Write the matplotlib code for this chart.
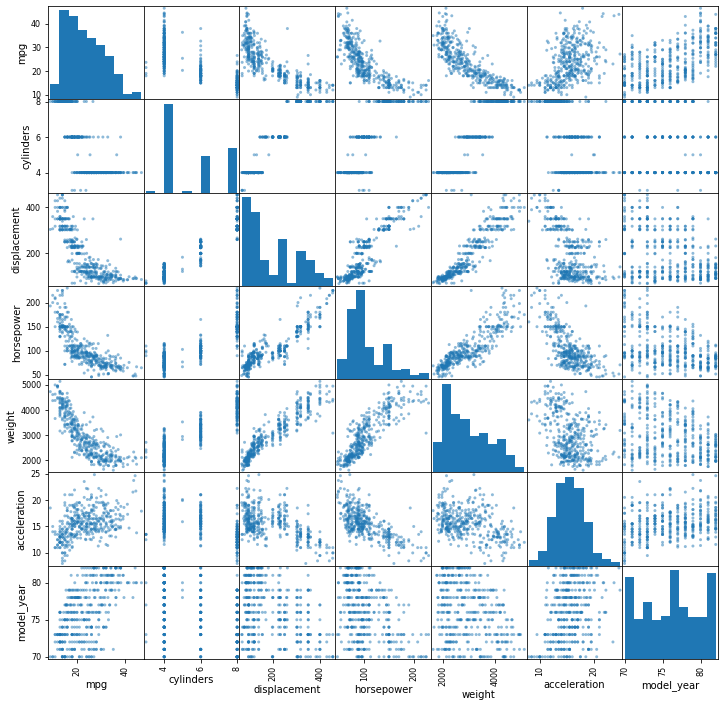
import matplotlib
matplotlib.use('Agg')
import matplotlib.pyplot as plt
import numpy as np
import pandas as pd

# one line per model year, 70 to 82; the last line of each list is the
# six cars with no horsepower
mpg = [
    18,15,18,16,17,15,14,14,14,15,15,14,15,14,24,22,18,21,27,26,25,24,25,26,21,10,10,11,9,
    27,28,25,19,16,17,19,18,14,14,14,14,12,13,13,18,22,19,18,23,28,30,30,31,35,27,26,
    24,25,23,20,21,13,14,15,14,17,11,13,12,13,19,15,13,13,14,18,22,21,26,22,28,23,28,27,
    13,14,13,14,15,12,13,13,14,13,12,13,18,16,18,18,23,26,11,12,13,12,18,20,21,22,18,19,21,26,15,16,29,24,20,19,15,24,20,11,
    20,19,15,31,26,32,25,16,16,18,16,13,14,14,14,29,26,26,31,32,28,24,26,24,26,31,
    19,18,15,15,16,15,16,14,17,16,15,18,21,20,13,29,23,20,23,24,25,24,18,29,19,23,23,22,25,33,
    28,25,25,26,27,17.5,16,15.5,14.5,22,22,24,22.5,29,24.5,29,33,20,18,18.5,17.5,29.5,32,28,26.5,20,13,19,19,16.5,16.5,13,13,13,
    31.5,30,36,25.5,33.5,17.5,17,15.5,15,17.5,20.5,19,18.5,16,15.5,15.5,16,29,24.5,26,25.5,30.5,33.5,30,30.5,22,21.5,21.5,
    43.1,36.1,32.8,39.4,36.1,19.9,19.4,20.2,19.2,20.5,20.2,25.1,20.5,19.4,20.6,20.8,18.6,18.1,19.2,17.7,18.1,17.5,30,27.5,27.2,30.9,21.1,23.2,23.8,23.9,20.3,17,21.6,16.2,31.5,29.5,
    21.5,19.8,22.3,20.2,20.6,17,17.6,16.5,18.2,16.9,15.5,19.2,18.5,31.9,34.1,35.7,27.4,25.4,23,27.2,23.9,34.2,34.5,31.8,37.3,28.4,28.8,26.8,33.5,
    41.5,38.1,32.1,37.2,28,26.4,24.3,19.1,34.3,29.8,31.3,37,32.2,46.6,27.9,40.8,44.3,43.4,36.4,30,44.6,33.8,29.8,32.7,23.7,35,32.4,
    27.2,26.6,25.8,23.5,30,39.1,39,35.1,32.3,37,37.7,34.1,34.7,34.4,29.9,33,33.7,32.4,32.9,31.6,28.1,30.7,25.4,24.2,22.4,26.6,20.2,17.6,
    28,27,34,31,29,27,24,36,37,31,38,36,36,36,34,38,32,38,25,38,26,22,32,36,27,27,44,32,28,31,
    25,21,40.9,23.6,34.5,23,
]

cylinders = [
    8,8,8,8,8,8,8,8,8,8,8,8,8,8,4,6,6,6,4,4,4,4,4,4,6,8,8,8,8,
    4,4,4,6,6,6,6,6,8,8,8,8,8,8,8,6,4,6,6,4,4,4,4,4,4,4,4,
    4,4,4,4,4,8,8,8,8,8,8,8,8,8,3,8,8,8,8,4,4,4,4,4,4,4,4,4,
    8,8,8,8,8,8,8,8,8,8,8,8,6,6,6,6,6,4,8,8,8,8,6,4,4,4,3,4,6,4,8,8,4,4,4,4,8,4,6,8,
    6,6,6,4,4,4,4,6,6,6,8,8,8,8,8,4,4,4,4,4,4,4,4,4,4,4,
    6,6,6,6,8,8,8,8,6,6,6,6,6,8,8,4,4,6,4,4,4,4,6,4,6,4,4,4,4,4,
    4,4,4,4,4,8,8,8,8,6,6,6,6,4,4,4,4,6,6,6,6,4,4,4,4,4,8,4,6,6,8,8,8,8,
    4,4,4,4,4,8,8,8,8,6,6,6,6,8,8,8,8,4,4,4,4,4,4,4,4,6,4,3,
    4,4,4,4,4,8,8,8,6,6,6,4,6,6,6,6,6,6,8,6,8,8,4,4,4,4,4,4,4,4,5,6,4,6,4,4,
    6,6,4,6,6,8,8,8,8,8,8,8,8,4,4,4,4,5,8,4,8,4,4,4,4,4,6,6,4,
    4,4,4,4,4,4,4,6,4,4,4,4,4,4,4,4,4,4,5,4,4,4,4,6,3,4,4,
    4,4,4,6,4,4,4,4,4,4,4,4,4,4,4,4,4,4,4,4,4,6,6,6,6,8,6,6,
    4,4,4,4,4,4,4,4,4,4,4,4,4,4,4,4,4,4,6,6,4,6,4,4,4,4,4,4,4,4,
    4,6,4,4,4,4,
]

displacement = [
    307,350,318,304,302,429,454,440,455,390,383,340,400,455,113,198,199,200,97,97,110,107,104,121,199,360,307,318,304,
    97,140,113,232,225,250,250,232,350,400,351,318,383,400,400,258,140,250,250,122,116,79,88,71,72,97,91,
    113,97.5,97,140,122,350,400,318,351,304,429,350,350,400,70,304,307,302,318,121,121,120,96,122,97,120,98,97,
    350,304,350,302,318,429,400,351,318,440,455,360,225,250,232,250,198,97,400,400,360,350,232,97,140,108,70,122,155,98,350,400,68,116,114,121,318,121,156,350,
    198,232,250,79,122,71,140,250,258,225,302,350,318,302,304,98,79,97,76,83,90,90,116,120,108,79,
    225,250,250,250,400,350,318,351,231,250,258,225,231,262,302,97,140,232,140,134,90,119,171,90,232,115,120,121,121,91,
    107,116,140,98,101,305,318,304,351,225,250,200,232,85,98,90,91,225,250,250,258,97,85,97,140,130,318,120,156,168,350,350,302,318,
    98,111,79,122,85,305,260,318,302,250,231,225,250,400,350,400,351,97,151,97,140,98,98,97,97,146,121,80,
    90,98,78,85,91,260,318,302,231,200,200,140,225,232,231,200,225,258,305,231,302,318,98,134,119,105,134,156,151,119,131,163,121,163,89,98,
    231,200,140,232,225,305,302,351,318,350,351,267,360,89,86,98,121,183,350,141,260,105,105,85,91,151,173,173,151,
    98,89,98,86,151,140,151,225,97,134,120,119,108,86,156,85,90,90,121,146,91,97,89,168,70,122,107,
    135,151,156,173,135,79,86,81,97,85,89,91,105,98,98,105,107,108,119,120,141,145,168,146,231,350,200,225,
    112,112,112,112,135,151,140,105,91,91,105,98,120,107,108,91,91,91,181,262,156,232,144,135,151,140,97,135,120,119,
    98,200,85,140,100,151,
]

horsepower = [
    130,165,150,150,140,198,220,215,225,190,170,160,150,225,95,95,97,85,88,46,87,90,95,113,90,215,200,210,193,
    88,90,95,100,105,100,88,100,165,175,153,150,180,170,175,110,72,100,88,86,90,70,76,65,69,60,70,
    95,80,54,90,86,165,175,150,153,150,208,155,160,190,97,150,130,140,150,112,76,87,69,86,92,97,80,88,
    175,150,145,137,150,198,150,158,150,215,225,175,105,100,100,88,95,46,150,167,170,180,100,88,72,94,90,85,107,90,145,230,49,75,91,112,150,110,122,180,
    95,100,100,67,80,65,75,100,110,105,140,150,150,140,150,83,67,78,52,61,75,75,75,97,93,67,
    95,105,72,72,170,145,150,148,110,105,110,95,110,110,129,75,83,100,78,96,71,97,97,70,90,95,88,98,115,53,
    86,81,92,79,83,140,150,120,152,100,105,81,90,52,60,70,53,100,78,110,95,71,70,75,72,102,150,88,108,120,180,145,130,150,
    68,80,58,96,70,145,110,145,130,110,105,100,98,180,170,190,149,78,88,75,89,63,83,67,78,97,110,110,
    48,66,52,70,60,110,140,139,105,95,85,88,100,90,105,85,110,120,145,165,139,140,68,95,97,75,95,105,85,97,103,125,115,133,71,68,
    115,85,88,90,110,130,129,138,135,155,142,125,150,71,65,80,80,77,125,71,90,70,70,65,69,90,115,115,90,
    76,60,70,65,90,88,90,90,78,90,75,92,75,65,105,65,48,48,67,67,67,67,62,132,100,88,72,
    84,84,92,110,84,58,64,60,67,65,62,68,63,65,65,74,75,75,100,74,80,76,116,120,110,105,88,85,
    88,88,88,85,84,90,92,74,68,68,63,70,88,75,70,67,67,67,110,85,92,112,96,84,90,86,52,84,79,82,
    np.nan,np.nan,np.nan,np.nan,np.nan,np.nan,
]

weight = [
    3504,3693,3436,3433,3449,4341,4354,4312,4425,3850,3563,3609,3761,3086,2372,2833,2774,2587,2130,1835,2672,2430,2375,2234,2648,4615,4376,4382,4732,
    2130,2264,2228,2634,3439,3329,3302,3288,4209,4464,4154,4096,4955,4746,5140,2962,2408,3282,3139,2220,2123,2074,2065,1773,1613,1834,1955,
    2278,2126,2254,2408,2226,4274,4385,4135,4129,3672,4633,4502,4456,4422,2330,3892,4098,4294,4077,2933,2511,2979,2189,2395,2288,2506,2164,2100,
    4100,3672,3988,4042,3777,4952,4464,4363,4237,4735,4951,3821,3121,3278,2945,3021,2904,1950,4997,4906,4654,4499,2789,2279,2401,2379,2124,2310,2472,2265,4082,4278,1867,2158,2582,2868,3399,2660,2807,3664,
    3102,2901,3336,1950,2451,1836,2542,3781,3632,3613,4141,4699,4457,4638,4257,2219,1963,2300,1649,2003,2125,2108,2246,2489,2391,2000,
    3264,3459,3432,3158,4668,4440,4498,4657,3907,3897,3730,3785,3039,3221,3169,2171,2639,2914,2592,2702,2223,2545,2984,1937,3211,2694,2957,2945,2671,1795,
    2464,2220,2572,2255,2202,4215,4190,3962,4215,3233,3353,3012,3085,2035,2164,1937,1795,3651,3574,3645,3193,1825,1990,2155,2565,3150,3940,3270,2930,3820,4380,4055,3870,3755,
    2045,2155,1825,2300,1945,3880,4060,4140,4295,3520,3425,3630,3525,4220,4165,4325,4335,1940,2740,2265,2755,2051,2075,1985,2190,2815,2600,2720,
    1985,1800,1985,2070,1800,3365,3735,3570,3535,3155,2965,2720,3430,3210,3380,3070,3620,3410,3425,3445,3205,4080,2155,2560,2300,2230,2515,2745,2855,2405,2830,3140,2795,3410,1990,2135,
    3245,2990,2890,3265,3360,3840,3725,3955,3830,4360,4054,3605,3940,1925,1975,1915,2670,3530,3900,3190,3420,2200,2150,2020,2130,2670,2595,2700,2556,
    2144,1968,2120,2019,2678,2870,3003,3381,2188,2711,2542,2434,2265,2110,2800,2110,2085,2335,2950,3250,1850,2145,1845,2910,2420,2500,2290,
    2490,2635,2620,2725,2385,1755,1875,1760,2065,1975,2050,1985,2215,2045,2380,2190,2210,2350,2615,2635,3230,3160,2900,2930,3415,3725,3060,3465,
    2605,2640,2395,2575,2525,2735,2865,1980,2025,1970,2125,2125,2160,2205,2245,1965,1965,1995,2945,3015,2585,2835,2665,2370,2950,2790,2130,2295,2625,2720,
    2046,2875,1835,2905,2320,3035,
]

acceleration = [
    12,11.5,11,12,10.5,10,9,8.5,10,8.5,10,8,9.5,10,15,15.5,15.5,16,14.5,20.5,17.5,14.5,17.5,12.5,15,14,15,13.5,18.5,
    14.5,15.5,14,13,15.5,15.5,15.5,15.5,12,11.5,13.5,13,11.5,12,12,13.5,19,15,14.5,14,14,19.5,14.5,19,18,19,20.5,
    15.5,17,23.5,19.5,16.5,12,12,13.5,13,11.5,11,13.5,13.5,12.5,13.5,12.5,14,16,14,14.5,18,19.5,18,16,17,14.5,15,16.5,
    13,11.5,13,14.5,12.5,11.5,12,13,14.5,11,11,11,16.5,18,16,16.5,16,21,14,12.5,13,12.5,15,19,19.5,16.5,13.5,18.5,14,15.5,13,9.5,19.5,15.5,14,15.5,11,14,13.5,11,
    16.5,16,17,19,16.5,21,17,17,18,16.5,14,14.5,13.5,16,15.5,16.5,15.5,14.5,16.5,19,14.5,15.5,14,15,15.5,16,
    16,16,21,19.5,11.5,14,14.5,13.5,21,18.5,19,19,15,13.5,12,16,17,16,18.5,13.5,16.5,17,14.5,14,17,15,17,14.5,13.5,17.5,
    15.5,16.9,14.9,17.7,15.3,13,13,13.9,12.8,15.4,14.5,17.6,17.6,22.2,22.1,14.2,17.4,17.7,21,16.2,17.8,12.2,17,16.4,13.6,15.7,13.2,21.9,15.5,16.7,12.1,12,15,14,
    18.5,14.8,18.6,15.5,16.8,12.5,19,13.7,14.9,16.4,16.9,17.7,19,11.1,11.4,12.2,14.5,14.5,16,18.2,15.8,17,15.9,16.4,14.1,14.5,12.8,13.5,
    21.5,14.4,19.4,18.6,16.4,15.5,13.2,12.8,19.2,18.2,15.8,15.4,17.2,17.2,15.8,16.7,18.7,15.1,13.2,13.4,11.2,13.7,16.5,14.2,14.7,14.5,14.8,16.7,17.6,14.9,15.9,13.6,15.7,15.8,14.9,16.6,
    15.4,18.2,17.3,18.2,16.6,15.4,13.4,13.2,15.2,14.9,14.3,15,13,14,15.2,14.4,15,20.1,17.4,24.8,22.2,13.2,14.9,19.2,14.7,16,11.3,12.9,13.2,
    14.7,18.8,15.5,16.4,16.5,18.1,20.1,18.7,15.8,15.5,17.5,15,15.2,17.9,14.4,19.2,21.7,23.7,19.9,21.8,13.8,18,15.3,11.4,12.5,15.1,17,
    15.7,16.4,14.4,12.6,12.9,16.9,16.4,16.1,17.8,19.4,17.3,16,14.9,16.2,20.7,14.2,14.4,16.8,14.8,18.3,20.4,19.6,12.6,13.8,15.8,19,17.1,16.6,
    19.6,18.6,18,16.2,16,18,16.4,15.3,18.2,17.6,14.7,17.3,14.5,14.5,16.9,15,15.7,16.2,16.4,17,14.5,14.7,13.9,13,17.3,15.6,24.6,11.6,18.6,19.4,
    19,17,17.3,14.3,15.8,20.5,
]

model_year = [
    70,70,70,70,70,70,70,70,70,70,70,70,70,70,70,70,70,70,70,70,70,70,70,70,70,70,70,70,70,
    71,71,71,71,71,71,71,71,71,71,71,71,71,71,71,71,71,71,71,71,71,71,71,71,71,71,71,
    72,72,72,72,72,72,72,72,72,72,72,72,72,72,72,72,72,72,72,72,72,72,72,72,72,72,72,72,
    73,73,73,73,73,73,73,73,73,73,73,73,73,73,73,73,73,73,73,73,73,73,73,73,73,73,73,73,73,73,73,73,73,73,73,73,73,73,73,73,
    74,74,74,74,74,74,74,74,74,74,74,74,74,74,74,74,74,74,74,74,74,74,74,74,74,74,
    75,75,75,75,75,75,75,75,75,75,75,75,75,75,75,75,75,75,75,75,75,75,75,75,75,75,75,75,75,75,
    76,76,76,76,76,76,76,76,76,76,76,76,76,76,76,76,76,76,76,76,76,76,76,76,76,76,76,76,76,76,76,76,76,76,
    77,77,77,77,77,77,77,77,77,77,77,77,77,77,77,77,77,77,77,77,77,77,77,77,77,77,77,77,
    78,78,78,78,78,78,78,78,78,78,78,78,78,78,78,78,78,78,78,78,78,78,78,78,78,78,78,78,78,78,78,78,78,78,78,78,
    79,79,79,79,79,79,79,79,79,79,79,79,79,79,79,79,79,79,79,79,79,79,79,79,79,79,79,79,79,
    80,80,80,80,80,80,80,80,80,80,80,80,80,80,80,80,80,80,80,80,80,80,80,80,80,80,80,
    81,81,81,81,81,81,81,81,81,81,81,81,81,81,81,81,81,81,81,81,81,81,81,81,81,81,81,81,
    82,82,82,82,82,82,82,82,82,82,82,82,82,82,82,82,82,82,82,82,82,82,82,82,82,82,82,82,82,82,
    71,74,80,80,81,82,
]

df = pd.DataFrame({
    'mpg': mpg,
    'cylinders': cylinders,
    'displacement': displacement,
    'horsepower': horsepower,
    'weight': weight,
    'acceleration': acceleration,
    'model_year': model_year,
})

W, H = 725, 707
# pandas fixes the first row ticks here, so draw at 12x12 first
pd.plotting.scatter_matrix(df, figsize=(12, 12))

fig = plt.gcf()
fig.set_size_inches(W / 72, H / 72)
fig.subplots_adjust(left=48 / W, right=718 / W, top=1 - 6 / H, bottom=1 - 659 / H,
                    wspace=0, hspace=0)
fig.savefig('out.png', dpi=72)
